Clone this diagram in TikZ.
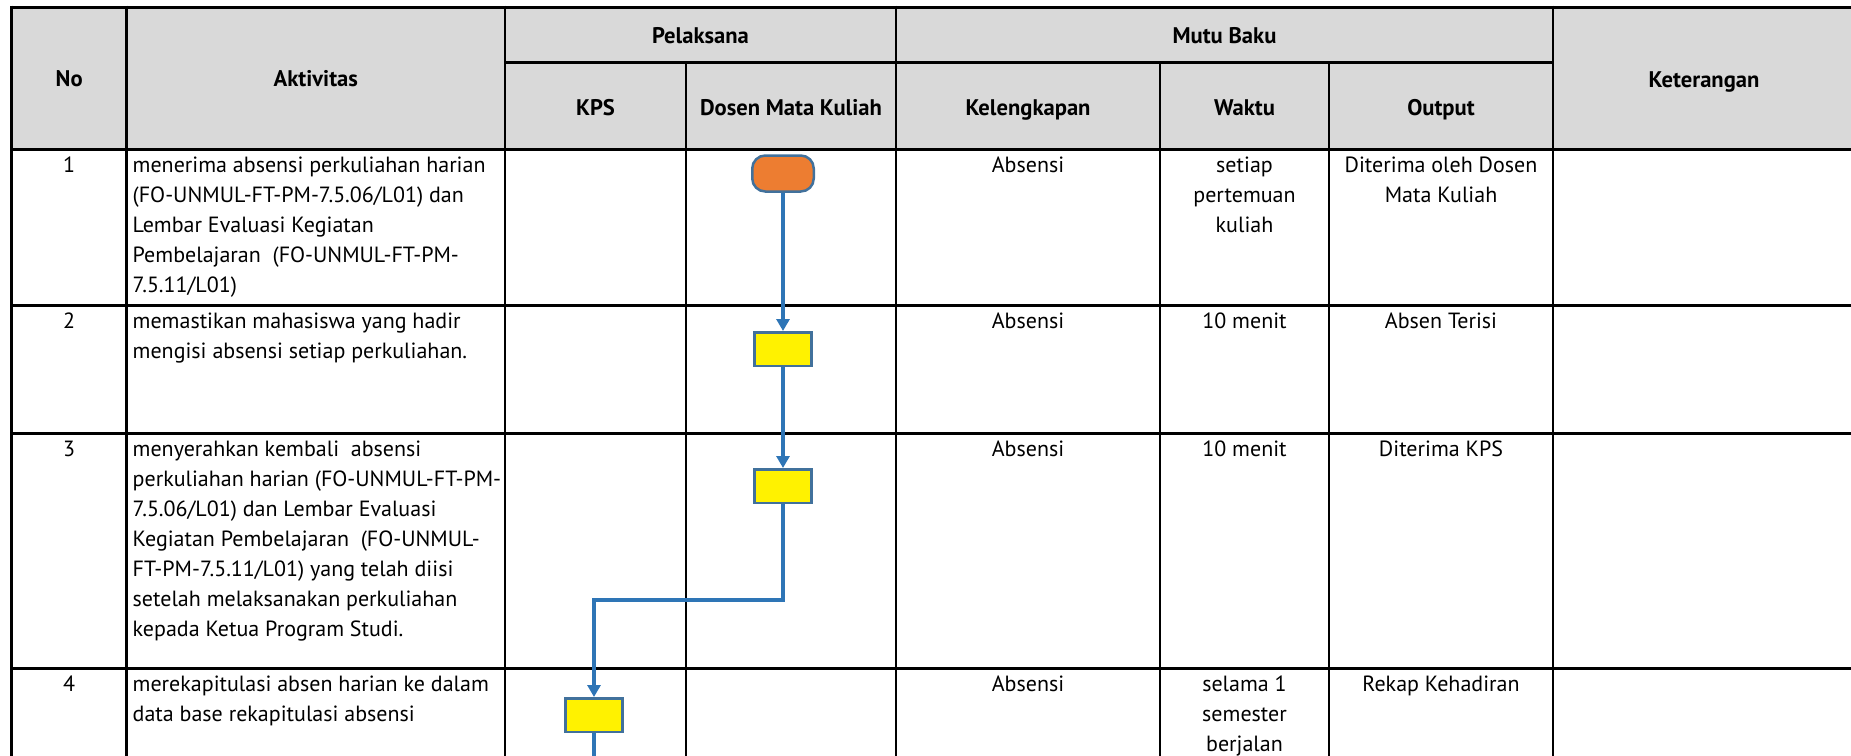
\documentclass[tikz,border=0pt]{standalone}
\usepackage{fontspec}
\setmainfont{PT Sans}
\usepackage{xcolor}
\usepackage{tikz}
\usetikzlibrary{arrows.meta}

\definecolor{hdrgray}{HTML}{D9D9D9}
\definecolor{termorange}{HTML}{ED7D31}
\definecolor{shapeblue}{HTML}{41719C}
\definecolor{flowblue}{HTML}{2E75B6}

\begin{document}
\begin{tikzpicture}[x=1pt, y=-1pt, >={Triangle[width=13pt,length=12pt]},
    every node/.style={inner sep=0pt, font=\fontsize{22}{30}\selectfont},
    hline/.style={line width=3.3pt},
    vline/.style={line width=2.7pt},
    hdr/.style={anchor=base, font=\fontsize{22.6}{30}\selectfont\bfseries},
    cell/.style={anchor=north, align=center},
    act/.style={anchor=north west, align=left},
    startbox/.style={draw=shapeblue, line width=2.5pt, fill=termorange,
        rounded corners=13pt, minimum width=61.5pt, minimum height=36pt},
    prosesbox/.style={draw=shapeblue, line width=2.5pt, fill=yellow,
        minimum width=57pt, minimum height=33.5pt},
    flow/.style={draw=flowblue, line width=3.8pt}]
  \useasboundingbox (0,0) rectangle (1851,755);
  \clip (0,0) rectangle (1851,755);

  \fill[hdrgray] (11.7,7.3) rectangle (1856,149.3);

  \draw[hline] (10,7.3) -- (1856,7.3);
  \draw[hline] (505,62.7) -- (1553,62.7);
  \draw[hline] (10,149.3) -- (1856,149.3);
  \draw[hline] (10,305.3) -- (1856,305.3);
  \draw[hline] (10,433.3) -- (1856,433.3);
  \draw[hline] (10,668.3) -- (1856,668.3);

  \draw[vline] (11.7,5.6) -- (11.7,760);
  \draw[vline] (126.7,5.6) -- (126.7,760);
  \draw[vline] (505,5.6) -- (505,760);
  \draw[vline] (686,62.7) -- (686,760);
  \draw[vline] (896,5.6) -- (896,760);
  \draw[vline] (1160,62.7) -- (1160,760);
  \draw[vline] (1329,62.7) -- (1329,760);
  \draw[vline] (1553,5.6) -- (1553,760);

  \node[hdr] (hNo) at (69.2,86) {No};
  \node[hdr] (hAkt) at (315.8,86) {Aktivitas};
  \node[hdr] (hPel) at (700.5,43.3) {Pelaksana};
  \node[hdr] (hMutu) at (1224.5,43.3) {Mutu Baku};
  \node[hdr] (hKet) at (1704,87) {Keterangan};
  \node[hdr] (hKps) at (595.5,115) {KPS};
  \node[hdr] (hDmk) at (791,115) {Dosen Mata Kuliah};
  \node[hdr] (hKel) at (1028,115) {Kelengkapan};
  \node[hdr] (hWkt) at (1244.5,115) {Waktu};
  \node[hdr] (hOut) at (1441,115) {Output};

  \node[cell] (no1) at (69.2,156.5) {1};
  \node[act] (akt1) at (132.5,156.5)
    {menerima absensi perkuliahan harian\\(FO-UNMUL-FT-PM-7.5.06/L01) dan\\Lembar Evaluasi Kegiatan\\Pembelajaran\ \ (FO-UNMUL-FT-PM-\\7.5.11/L01)};
  \node[cell] (kel1) at (1028,156.5) {Absensi};
  \node[cell] (wkt1) at (1244.5,156.5) {setiap\\pertemuan\\kuliah};
  \node[cell] (out1) at (1441,156.5) {Diterima oleh Dosen\\Mata Kuliah};

  \node[cell] (no2) at (69.2,312.5) {2};
  \node[act] (akt2) at (132.5,312.5)
    {memastikan mahasiswa yang hadir\\mengisi absensi setiap perkuliahan.};
  \node[cell] (kel2) at (1028,312.5) {Absensi};
  \node[cell] (wkt2) at (1244.5,312.5) {10 menit};
  \node[cell] (out2) at (1441,312.5) {Absen Terisi};

  \node[cell] (no3) at (69.2,440.5) {3};
  \node[act] (akt3) at (132.5,440.5)
    {menyerahkan kembali\ \ absensi\\perkuliahan harian (FO-UNMUL-FT-PM-\\7.5.06/L01) dan Lembar Evaluasi\\Kegiatan Pembelajaran\ \ (FO-UNMUL-\\FT-PM-7.5.11/L01) yang telah diisi\\setelah melaksanakan perkuliahan\\kepada Ketua Program Studi.};
  \node[cell] (kel3) at (1028,440.5) {Absensi};
  \node[cell] (wkt3) at (1244.5,440.5) {10 menit};
  \node[cell] (out3) at (1441,440.5) {Diterima KPS};

  \node[cell] (no4) at (69.2,675.5) {4};
  \node[act] (akt4) at (132.5,675.5)
    {merekapitulasi absen harian ke dalam\\data base rekapitulasi absensi};
  \node[cell] (kel4) at (1028,675.5) {Absensi};
  \node[cell] (wkt4) at (1244.5,675.5) {selama 1\\semester\\berjalan};
  \node[cell] (out4) at (1441,675.5) {Rekap Kehadiran};

  \node[startbox] (start) at (783,173.5) {};
  \node[prosesbox] (dmk2) at (783,349) {};
  \node[prosesbox] (dmk3) at (783,486) {};
  \node[prosesbox] (kps4) at (594,715) {};
  \coordinate (turn) at (594,600);
  \coordinate (next) at (594,770);

  \draw[flow, ->] (start) -- (dmk2);
  \draw[flow, ->] (dmk2) -- (dmk3);
  \draw[flow, ->] (dmk3) |- (turn) -- (kps4);
  \draw[flow] (kps4) -- (next);
\end{tikzpicture}
\end{document}
